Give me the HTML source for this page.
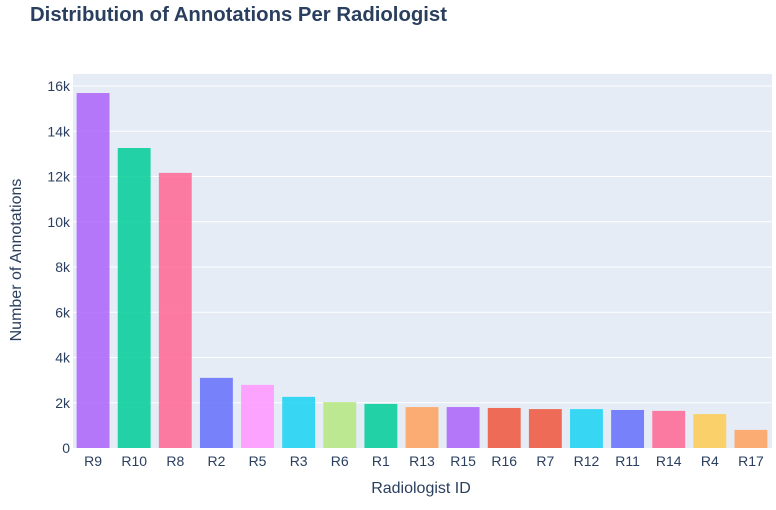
<!DOCTYPE html>
<html><head><meta charset="utf-8"><style>
body{margin:0;background:#fff;font-family:"Liberation Sans",sans-serif;}
</style></head><body>
<svg id="chart" width="776" height="505" xmlns="http://www.w3.org/2000/svg" font-family="Liberation Sans, sans-serif">
<rect width="776" height="505" fill="#fff"/>
<text x="30" y="21" font-size="20" font-weight="bold" fill="#2a3f5f" textLength="417" lengthAdjust="spacingAndGlyphs">Distribution of Annotations Per Radiologist</text>
<rect x="73" y="74" width="699" height="374" fill="#e5ecf6"/>
<g id="grid"></g><g id="bars"></g><g id="xt"></g><g id="yt"></g>
<text x="421" y="493" font-size="16" text-anchor="middle" fill="#2a3f5f">Radiologist ID</text>
<text transform="translate(21,260) rotate(-90)" font-size="16" text-anchor="middle" fill="#2a3f5f">Number of Annotations</text>
</svg>
<script>
const categories=["R9","R10","R8","R2","R5","R3","R6","R1","R13","R15","R16","R7","R12","R11","R14","R4","R17"];
const values=[15690,13260,12160,3100,2790,2260,2030,1950,1810,1810,1770,1720,1720,1680,1640,1500,800];
const colors=["#AB63FA","#00CC96","#FF6692","#636EFA","#FF97FF","#19D3F3","#B6E880","#00CC96","#FFA15A","#AB63FA","#EF553B","#EF553B","#19D3F3","#636EFA","#FF6692","#FECB52","#FFA15A"];
const yTicks=[0,2000,4000,6000,8000,10000,12000,14000,16000];
const yLabels=["0","2k","4k","6k","8k","10k","12k","14k","16k"];
const NS="http://www.w3.org/2000/svg";
const x0=73,w=699,yBase=448,pxPer=(448-86)/16000;
const band=w/categories.length;
const y=v=>yBase-v*pxPer;
const xc=i=>x0+band*(i+0.5);
function mk(t,a,p){const e=document.createElementNS(NS,t);for(const k in a)e.setAttribute(k,a[k]);document.getElementById(p).appendChild(e);return e;}
yTicks.forEach((t,i)=>{
  if(t>0){const g=mk("line",{x1:x0,x2:x0+w,y1:y(t),y2:y(t),stroke:"#fff","stroke-width":1},"grid");
  
  }
  const l=mk("text",{x:x0-3,y:y(t)+5,"text-anchor":"end","font-size":"14",fill:"#2a3f5f"},"yt");
  l.textContent=yLabels[i];
  
  
});
categories.forEach((c,i)=>{
  const bw=band*0.8;
  const b=mk("rect",{x:xc(i)-bw/2-0.5,y:y(values[i]),width:bw,height:yBase-y(values[i]),fill:colors[i],"fill-opacity":0.85},"bars");
  
  
  const l=mk("text",{x:xc(i)-0.5,y:466,"text-anchor":"middle","font-size":"14",fill:"#2a3f5f"},"xt");
  l.textContent=c;
  
  
});
</script>
</body></html>
